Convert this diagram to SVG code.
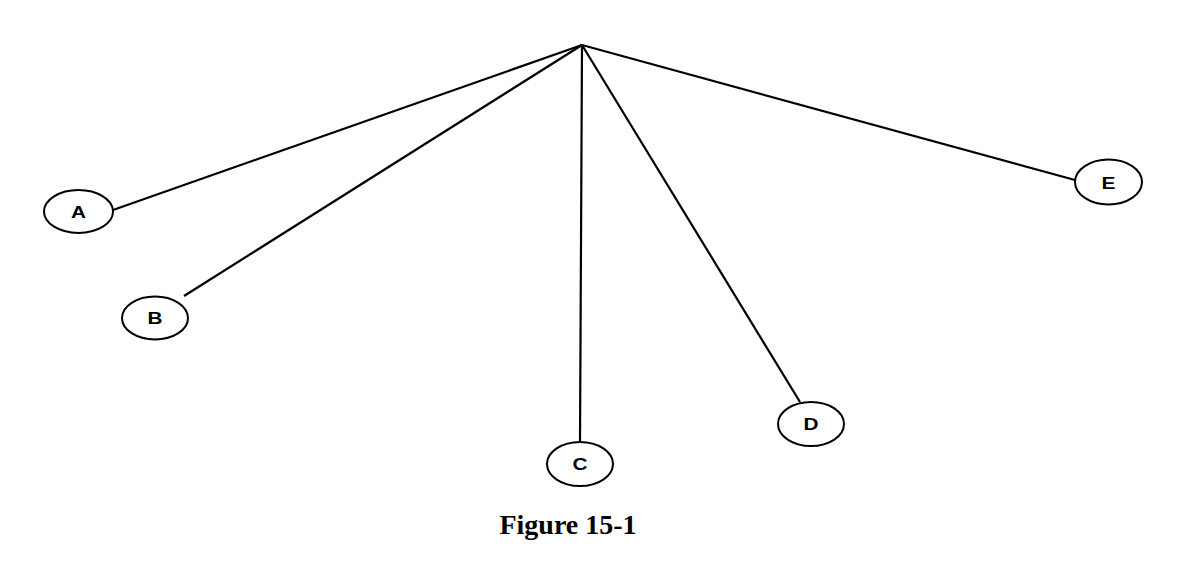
<svg xmlns="http://www.w3.org/2000/svg" width="1185" height="574" viewBox="0 0 1185 574">
<style>
.node ellipse{fill:#fff;stroke:#000;stroke-width:2}
.node text{font-family:"Liberation Sans",Arial,sans-serif;font-weight:bold;font-size:17px;text-anchor:middle;dominant-baseline:central;fill:#000}
.edge{stroke:#000;stroke-width:2.2;fill:none}
.caption{font-family:"Liberation Serif","Times New Roman",serif;font-weight:bold;font-size:28px;text-anchor:middle;fill:#000}
</style>
<rect width="1185" height="574" fill="#fff"/>
<g id="connectors">
<line class="edge" x1="582" y1="45" x2="113" y2="210"/>
<line class="edge" x1="582" y1="45" x2="184" y2="296"/>
<line class="edge" x1="582" y1="45" x2="580" y2="442"/>
<line class="edge" x1="582" y1="45" x2="800" y2="402"/>
<line class="edge" x1="582" y1="45" x2="1075" y2="180"/>
</g>
<g id="A" class="node"><ellipse cx="78.5" cy="211.5" rx="34.5" ry="21.5"/><text x="78.5" y="212" textLength="15" lengthAdjust="spacingAndGlyphs">A</text></g>
<g id="B" class="node"><ellipse cx="155" cy="318" rx="33" ry="21.5"/><text x="155" y="318" textLength="15" lengthAdjust="spacingAndGlyphs">B</text></g>
<g id="C" class="node"><ellipse cx="580" cy="464" rx="33" ry="22"/><text x="580" y="464" textLength="15" lengthAdjust="spacingAndGlyphs">C</text></g>
<g id="D" class="node"><ellipse cx="811" cy="424" rx="33" ry="22"/><text x="811" y="424" textLength="15" lengthAdjust="spacingAndGlyphs">D</text></g>
<g id="E" class="node"><ellipse cx="1108.5" cy="182" rx="33.5" ry="22.5"/><text x="1108.5" y="183" textLength="14" lengthAdjust="spacingAndGlyphs">E</text></g>
<text class="caption" x="568" y="534">Figure 15-1</text>
</svg>
